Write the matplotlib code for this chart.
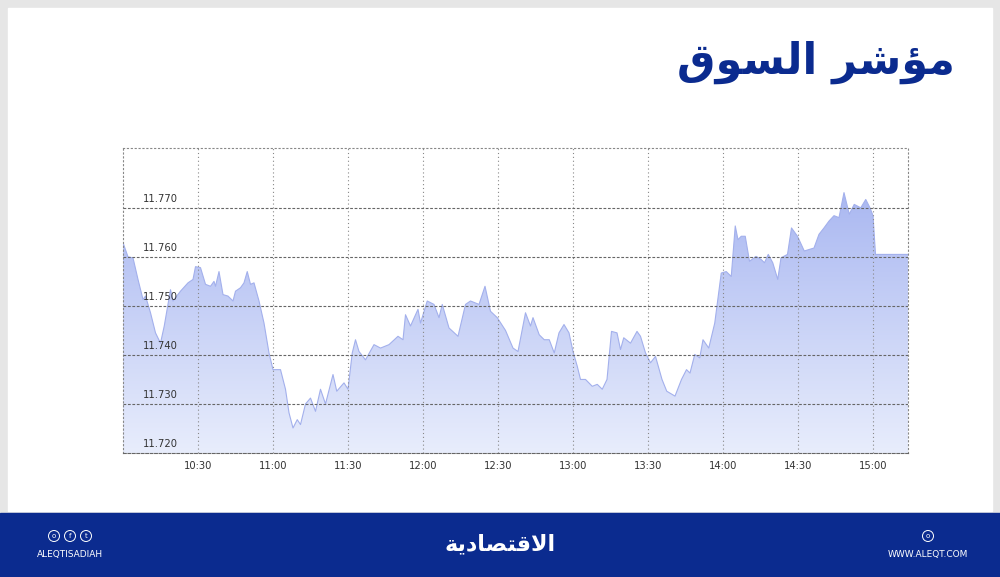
import matplotlib

matplotlib.use("Agg")
import matplotlib.pyplot as plt  # noqa: E402
import numpy as np  # noqa: E402
from matplotlib.patches import Rectangle, Ellipse  # noqa: E402

# minutes after 10:00, index level
MINUTES = [0, 2, 4, 6, 8, 9, 11, 13, 15, 16.5, 19, 20, 23, 26, 28, 29, 31, 33, 35, 36.4,
           37, 38.4, 40, 42, 44, 45, 47, 48.4, 49.7, 51, 52.4, 54.4, 56.4, 58.4, 60, 63,
           65, 66.4, 68, 69.7, 71, 73, 75, 77, 79, 81, 84, 85.5, 88.4, 90, 91.7, 93, 94.4,
           97, 100.4, 103, 106.4, 110, 112, 113, 115, 118, 119, 121.7, 124.4, 126.4, 127.7,
           130.4, 134, 137, 139, 142.4, 144.8, 147, 149.7, 153, 156, 158, 161, 163, 164,
           166.5, 168.5, 170.5, 172.5, 174.4, 176.4, 178.4, 180, 181.7, 183, 185, 187.7,
           189.7, 191.7, 193.6, 195.4, 197.6, 199, 200.3, 203, 205.6, 207, 209, 211, 213,
           215.6, 217.5, 220.8, 223.4, 225.4, 226.8, 228.7, 230.7, 232, 234.3, 236.7,
           239.3, 241.3, 243.3, 244.9, 246, 247.3, 248.9, 250.6, 253.2, 255.2, 256.6,
           258.1, 259.9, 261.9, 263.2, 265.8, 267.4, 269.8, 272.5, 276.4, 278.4, 280.4,
           282.4, 284.4, 286.4, 288.4, 290.5, 292.5, 295.1, 297.1, 298.8, 300, 301, 314]
LEVELS = [11.7629, 11.7600, 11.7598, 11.7554, 11.7513, 11.7520, 11.7486, 11.7445, 11.7424,
          11.7459, 11.7533, 11.7510, 11.7530, 11.7547, 11.7554, 11.7580, 11.7578, 11.7544,
          11.7540, 11.7550, 11.7540, 11.7570, 11.7523, 11.7520, 11.7510, 11.7530, 11.7537,
          11.7547, 11.7570, 11.7544, 11.7547, 11.7510, 11.7465, 11.7404, 11.7370, 11.7370,
          11.7330, 11.7282, 11.7251, 11.7268, 11.7258, 11.7300, 11.7312, 11.7285, 11.7330,
          11.7300, 11.7360, 11.7326, 11.7343, 11.7330, 11.7404, 11.7431, 11.7407, 11.7390,
          11.7421, 11.7414, 11.7421, 11.7438, 11.7431, 11.7482, 11.7459, 11.7493, 11.7465,
          11.7510, 11.7503, 11.7476, 11.7503, 11.7455, 11.7438, 11.7503, 11.7510, 11.7503,
          11.7540, 11.7489, 11.7476, 11.7450, 11.7414, 11.7407, 11.7486, 11.7459, 11.7476,
          11.7441, 11.7431, 11.7431, 11.7404, 11.7445, 11.7462, 11.7445, 11.7407, 11.7377,
          11.7350, 11.7350, 11.7336, 11.7340, 11.7330, 11.7350, 11.7448, 11.7445, 11.7411,
          11.7435, 11.7424, 11.7448, 11.7438, 11.7404, 11.7384, 11.7397, 11.7350, 11.7326,
          11.7316, 11.7350, 11.7370, 11.7363, 11.7401, 11.7394, 11.7431, 11.7414, 11.7465,
          11.7567, 11.7570, 11.7560, 11.7663, 11.7635, 11.7642, 11.7642, 11.7591, 11.7601,
          11.7595, 11.7588, 11.7605, 11.7588, 11.7554, 11.7598, 11.7605, 11.7659, 11.7642,
          11.7612, 11.7618, 11.7646, 11.7659, 11.7673, 11.7684, 11.7680, 11.7731, 11.7687,
          11.7707, 11.7700, 11.7717, 11.7700, 11.7684, 11.7605, 11.7605]

X_TICKS = [30, 60, 90, 120, 150, 180, 210, 240, 270, 300]
X_LABELS = ["10:30", "11:00", "11:30", "12:00", "12:30", "13:00", "13:30", "14:00", "14:30", "15:00"]
Y_TICKS = [11.720, 11.730, 11.740, 11.750, 11.760, 11.770]
Y_LABELS = ["11.720", "11.730", "11.740", "11.750", "11.760", "11.770"]

# Arabic in presentation forms, visual order
TITLE = "\uFED5\uFEEE\uFEB4\uFEDF\uFE8D \uFEAE\uFEB7\uFE86\uFEE3"
LOGO = "\uFE94\uFEF3\uFEA9\uFE8E\uFEBC\uFE98\uFED7\uFEFB\uFE8D"

NAVY = "#0b2b8f"

fig = plt.figure(figsize=(10, 5.77), dpi=100)
fig.patch.set_facecolor("#e6e6e6")
fig.patches.append(Rectangle((8 / 1000, 1 - 511 / 577), 984 / 1000, 503 / 577,
                             transform=fig.transFigure, color="white", zorder=0))
fig.patches.append(Rectangle((0, 0), 1, 64 / 577, transform=fig.transFigure,
                             color=NAVY, zorder=1))

ax = fig.add_axes([123 / 1000, 124 / 577, 785 / 1000, 305 / 577])
ax.set_zorder(5)
ax.set_facecolor("white")
x0, x1 = 0, 314
y0, y1 = 11.720, 11.7822
ax.set_xlim(x0, x1)
ax.set_ylim(y0, y1)

x = np.array(MINUTES)
y = np.array(LEVELS)
grad = np.linspace(0, 1, 256).reshape(-1, 1)
cmap = matplotlib.colors.LinearSegmentedColormap.from_list("g", ["#e8edfc", "#a9b7f1"])
img = ax.imshow(grad, extent=[x0, x1, y0, 11.774], origin="lower", aspect="auto",
                cmap=cmap, zorder=1)
poly = ax.fill_between(x, y, y0, color="none")
path = poly.get_paths()[0]
img.set_clip_path(path, transform=ax.transData)
ax.plot(x, y, color="#a3b0ec", lw=0.8, zorder=2)
ax.set_xlim(x0, x1)
ax.set_ylim(y0, y1)

for t in X_TICKS:
    ax.axvline(t, color="#888888", lw=0.8, ls=(0, (1, 2.5)), zorder=3)
for v in Y_TICKS[1:]:
    ax.axhline(v, color="#666666", lw=0.8, ls=(0, (2.5, 1.5)), zorder=3)
for lab, v in zip(Y_LABELS, Y_TICKS):
    ax.text(8, v + 0.0008, lab, fontsize=7.2, color="#333333", ha="left", va="bottom", zorder=4)

ax.set_xticks(X_TICKS)
ax.set_xticklabels(X_LABELS, fontsize=7.2, color="#333333")
ax.set_yticks([])
ax.tick_params(axis="x", length=0, pad=6)
for side in ["top", "left", "right"]:
    ax.spines[side].set_linestyle((0, (1, 2.5)))
    ax.spines[side].set_color("#888888")
    ax.spines[side].set_linewidth(0.8)
ax.spines["bottom"].set_linestyle((0, (2.5, 1.5)))
ax.spines["bottom"].set_color("#666666")
ax.spines["bottom"].set_linewidth(0.8)

fig.text(955 / 1000, 1 - 62 / 577, TITLE, fontsize=31, fontweight="bold", color=NAVY,
         ha="right", va="center", family="DejaVu Sans")
fig.text(500 / 1000, 1 - 544 / 577, LOGO, fontsize=16, fontweight="bold", color="white",
         ha="center", va="center", family="DejaVu Sans")
fig.text(70 / 1000, 1 - 555 / 577, "ALEQTISADIAH", fontsize=6.5, color="white",
         ha="center", va="center")
fig.text(928 / 1000, 1 - 555 / 577, "WWW.ALEQT.COM", fontsize=6.5, color="white",
         ha="center", va="center")
for cx, ch in [(54, "o"), (70, "f"), (86, "t"), (928, "o")]:
    fig.patches.append(Ellipse((cx / 1000, 1 - 536 / 577), 11 / 1000, 11 / 577,
                               transform=fig.transFigure, fill=False, ec="white", lw=0.7, zorder=2))
    fig.text(cx / 1000, 1 - 536 / 577, ch, fontsize=5, color="white", ha="center", va="center")

fig.savefig("out.png", dpi=100)
